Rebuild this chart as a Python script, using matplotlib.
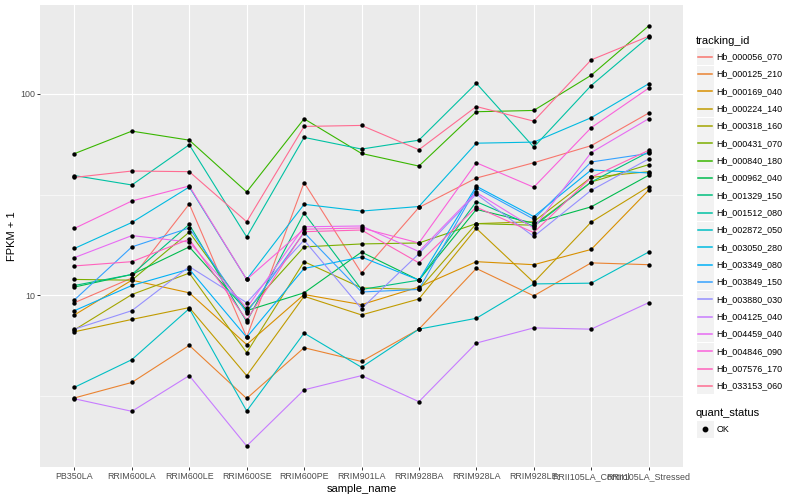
import matplotlib
matplotlib.use("Agg")
import matplotlib.pyplot as plt
import numpy as np
from matplotlib.lines import Line2D
from matplotlib.patches import Rectangle
from matplotlib.ticker import FixedLocator, NullFormatter

plt.rcParams["font.family"] = ["Liberation Sans", "DejaVu Sans"]

samples = ["PB350LA", "RRIM600LA", "RRIM600LE", "RRIM600SE", "RRIM600PE", "RRIM901LA",
           "RRIM928BA", "RRIM928LA", "RRIM928LE", "RRII105LA_Control", "RRII105LA_Stressed"]

tracking_ids = ["Hb_000056_070", "Hb_000125_210", "Hb_000169_040", "Hb_000224_140",
                "Hb_000318_160", "Hb_000431_070", "Hb_000840_180", "Hb_000962_040",
                "Hb_001329_150", "Hb_001512_080", "Hb_002872_050", "Hb_003050_280",
                "Hb_003349_080", "Hb_003849_150", "Hb_003880_030", "Hb_004125_040",
                "Hb_004459_040", "Hb_004846_090", "Hb_007576_170", "Hb_033153_060"]

# FPKM + 1, one list per gene, in sample order
hb_000056_070 = [9.2, 12.2, 28.4, 6.2, 36.3, 12.9, 27.3, 38.2, 45.5, 55.3, 80.2]
hb_000125_210 = [3.1, 3.7, 5.65, 3.08, 5.5, 4.7, 6.8, 13.6, 9.95, 14.5, 14.2]
hb_000169_040 = [8.0, 11.9, 10.3, 5.7, 10.1, 9.0, 11.0, 14.7, 14.2, 16.9, 33.2]
hb_000224_140 = [6.6, 7.6, 8.7, 4.0, 9.9, 8.0, 9.6, 21.5, 11.6, 23.1, 34.6]
hb_000318_160 = [6.75, 10.1, 12.9, 5.2, 14.7, 10.9, 10.7, 22.7, 23.2, 38.5, 41.1]
hb_000431_070 = [12.0, 11.9, 20.6, 8.4, 17.4, 18.0, 18.2, 22.7, 22.3, 36.5, 44.5]
hb_000840_180 = [50.5, 65.3, 58.9, 32.6, 75.2, 50.6, 43.8, 81.5, 82.7, 123.6, 217.0]
hb_000962_040 = [11.0, 12.7, 17.4, 8.4, 10.3, 16.4, 11.9, 26.7, 22.8, 27.5, 39.4]
hb_001329_150 = [11.2, 12.7, 22.5, 7.4, 25.6, 10.7, 11.9, 29.2, 22.0, 36.5, 51.4]
hb_001512_080 = [39.3, 35.3, 55.9, 19.5, 60.8, 53.2, 58.9, 112.8, 54.4, 109.9, 191.5]
hb_002872_050 = [3.5, 4.8, 8.6, 2.67, 6.5, 4.4, 6.8, 7.7, 11.4, 11.5, 16.4]
hb_003050_280 = [17.1, 23.0, 34.5, 12.0, 28.3, 26.2, 27.6, 56.9, 57.6, 76.1, 112.1]
hb_003349_080 = [8.4, 11.2, 13.5, 6.2, 13.6, 15.5, 11.9, 34.8, 24.6, 41.9, 40.5]
hb_003849_150 = [9.5, 17.4, 21.6, 8.2, 20.5, 10.4, 10.7, 34.1, 23.9, 45.9, 50.6]
hb_003880_030 = [6.8, 8.4, 13.9, 9.2, 18.8, 8.6, 16.1, 31.8, 19.6, 33.2, 47.5]
hb_004125_040 = [3.07, 2.66, 4.0, 1.79, 3.4, 4.0, 2.97, 5.8, 6.9, 6.8, 9.2]
hb_004459_040 = [15.4, 19.8, 18.4, 8.65, 21.9, 22.1, 16.5, 32.4, 21.6, 51.1, 75.2]
hb_004846_090 = [21.5, 29.4, 34.9, 12.0, 21.3, 21.6, 18.2, 45.5, 34.4, 67.9, 106.6]
hb_007576_170 = [14.0, 14.7, 19.0, 7.55, 20.7, 21.1, 14.5, 27.4, 20.5, 38.5, 52.4]
hb_033153_060 = [38.5, 41.4, 41.1, 23.2, 68.9, 69.7, 52.8, 86.5, 73.2, 147.3, 192.8]

series = [hb_000056_070, hb_000125_210, hb_000169_040, hb_000224_140, hb_000318_160,
          hb_000431_070, hb_000840_180, hb_000962_040, hb_001329_150, hb_001512_080,
          hb_002872_050, hb_003050_280, hb_003349_080, hb_003849_150, hb_003880_030,
          hb_004125_040, hb_004459_040, hb_004846_090, hb_007576_170, hb_033153_060]

# ggplot2 hue palette for 20 levels
colors = ["#F8766D", "#EA8331", "#D89000", "#C09B00", "#A3A500", "#7CAE00", "#39B600",
          "#00BB4E", "#00BF7D", "#00C1A3", "#00BFC4", "#00BAE0", "#00B0F6", "#35A2FF",
          "#9590FF", "#C77CFF", "#E76BF3", "#FA62DB", "#FF62BC", "#FF6C91"]

W, H = 800, 500


def fx(px):
    return px / W


def fy(py):
    return 1 - py / H


fig = plt.figure(figsize=(8, 5), dpi=100)
ax = fig.add_axes([fx(40), fy(467), fx(683 - 40), (467 - 5) / H])
ax.set_facecolor("#EBEBEB")
for s in ax.spines.values():
    s.set_visible(False)

x = np.arange(len(samples))
for vals, col in zip(series, colors):
    ax.plot(x, vals, color=col, lw=0.8, zorder=2)
for vals in series:
    ax.scatter(x, vals, s=10, color="black", linewidths=0, zorder=3)

ax.set_yscale("log")
logs = np.log10(np.concatenate([np.asarray(v) for v in series]))
pad = 0.05 * (logs.max() - logs.min())
ax.set_ylim(10 ** (logs.min() - pad), 10 ** (logs.max() + pad))
ax.set_xlim(-0.6, len(samples) - 0.4)

ax.yaxis.set_major_locator(FixedLocator([10, 100]))
ax.set_yticklabels(["10", "100"])
ax.yaxis.set_minor_locator(FixedLocator([10 ** 0.5, 10 ** 1.5]))
ax.yaxis.set_minor_formatter(NullFormatter())
ax.set_xticks(x)
ax.set_xticklabels(samples)

ax.grid(which="major", color="white", lw=0.8)
ax.grid(which="minor", axis="y", color="white", lw=0.4)
ax.set_axisbelow(True)
ax.tick_params(which="major", length=2.0, width=0.7, color="#333333",
               labelsize=6.4, labelcolor="#4D4D4D", pad=1.6)
ax.tick_params(which="minor", length=0)

ax.set_xlabel("sample_name", fontsize=8, labelpad=2)
ax.set_ylabel("FPKM + 1", fontsize=8, labelpad=2)

# legend, ggplot style
fig.text(fx(696), fy(40.7), "tracking_id", fontsize=8, va="center", ha="left")
for i, (name, col) in enumerate(zip(tracking_ids, colors)):
    yc = 56.7 + 17.33 * i
    fig.add_artist(Rectangle((fx(696.5), fy(yc + 8.5)), fx(17), 17 / H,
                             transform=fig.transFigure, facecolor="#F2F2F2",
                             edgecolor="none", zorder=1))
    fig.add_artist(Line2D([fx(698), fx(712)], [fy(yc), fy(yc)],
                          transform=fig.transFigure, color=col, lw=1.1, zorder=3))
    fig.text(fx(716.7), fy(yc), name, fontsize=6.4, va="center", ha="left")

fig.text(fx(696), fy(412.7), "quant_status", fontsize=8, va="center", ha="left")
yc = 429.3
fig.add_artist(Rectangle((fx(696.5), fy(yc + 8.5)), fx(17), 17 / H,
                         transform=fig.transFigure, facecolor="#F2F2F2",
                         edgecolor="none", zorder=1))
fig.add_artist(Line2D([fx(705)], [fy(yc)], transform=fig.transFigure, marker="o",
                      markersize=3.2, color="black", lw=0, zorder=3))
fig.text(fx(716.7), fy(yc), "OK", fontsize=6.4, va="center", ha="left")

fig.savefig("out.png", dpi=100)
